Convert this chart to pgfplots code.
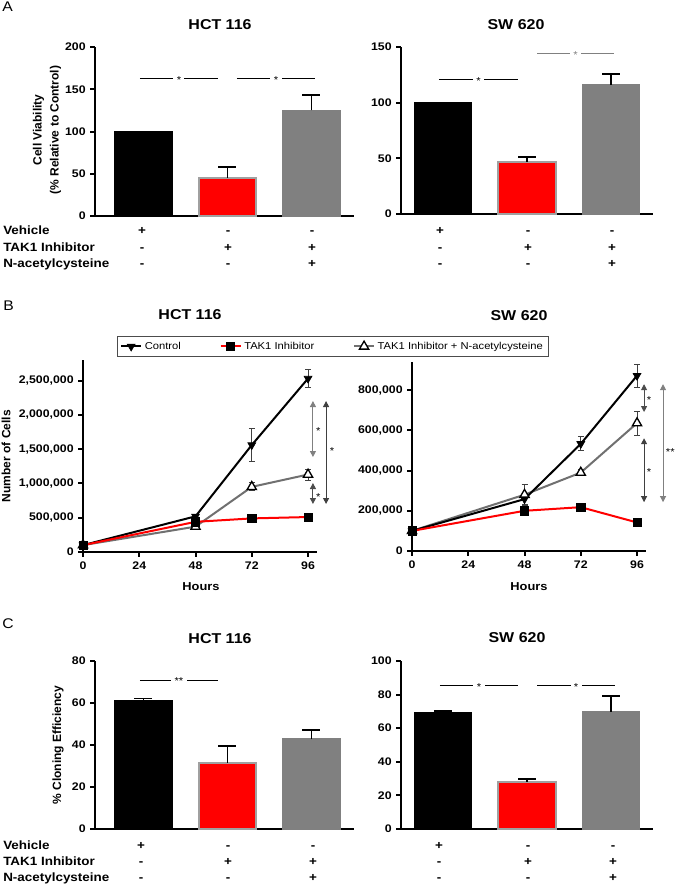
\documentclass[border=0pt]{standalone}
\usepackage{fontspec}
\setmainfont{Liberation Sans}[FakeStretch=1.12]
\newfontfamily\rotfont{Liberation Sans}
\usepackage{pgfplots}
\pgfplotsset{compat=1.18}
\usetikzlibrary{arrows.meta}
\definecolor{pgray}{HTML}{808080}
\definecolor{pred}{HTML}{FF0000}
\definecolor{outl}{HTML}{A0A0A0}
\definecolor{lgray}{HTML}{707070}
\newcommand\tickfont{\bfseries\fontsize{8.25}{9}\selectfont}
\newcommand\rowfont{\bfseries\fontsize{9}{10}\selectfont}
\newcommand\titlefont{\bfseries\fontsize{10.7}{12}\selectfont}
\newcommand\starfont{\fontsize{7.5}{8}\selectfont}
\newcommand\sig[5]{\draw[line width=0.5pt,#4] (axis cs:#1,#3) -- (axis cs:#2,#3) node[midway, fill=white, inner xsep=2.5pt, inner ysep=0.3pt, font=\starfont, text=#4, yshift=-1.2pt]{#5};}
\tikzset{
  arr/.style={line width=0.75pt, {Triangle[length=4.5pt,width=4.5pt]}-{Triangle[length=4.5pt,width=4.5pt]}},
  st/.style={font=\starfont, inner sep=0pt, yshift=-1.6pt},
}
\pgfplotsset{
  prism/.style={scale only axis, axis lines=left, axis line style={line width=1.5pt,-}, tick style={line width=1.5pt,black}, tick align=outside, major tick length=3.5pt, ytick pos=left, xtick pos=bottom, tick label style={font=\tickfont}, /pgf/number format/assume math mode=true, clip=false, anchor=south west, ymin=0},
  bars/.style={prism, xtick=\empty, xmin=-0.577, xmax=2.506, width=194.25pt},
  barsR/.style={prism, xtick=\empty, xmin=-0.5, xmax=2.5, width=189pt},
  bar/.style={ybar, bar width=0.68, bar shift=0pt, line width=1pt},
  ebar/.style={error bars/y dir=plus, error bars/y explicit, error bars/error bar style={line width=1.2pt,black}, error bars/error mark options={rotate=90, line width=1.2pt, black, mark size=6.75pt}},
  ctrl/.style={black, line width=1.5pt, mark=triangle*, mark size=3.4pt, mark options={rotate=180, fill=black, line width=0.5pt}},
  tak/.style={pred, line width=1.5pt, mark=square*, mark size=3.1pt, mark options={fill=black, draw=black, line width=0.5pt}},
  nac/.style={lgray, line width=1.5pt, mark=triangle*, mark size=4pt, mark options={fill=white, draw=black, line width=1pt}},
  eb/.style={error bars/y dir=both, error bars/y explicit, error bars/error bar style={line width=0.75pt, black!75}, error bars/error mark options={rotate=90, line width=0.75pt, black!75, mark size=2.25pt}},
}
\begin{document}
\begin{tikzpicture}
\path[use as bounding box] (0,0) rectangle (506.25pt,-663.75pt);
% ---------------- A left
\begin{axis}[bars, at={(71.25pt,-162pt)}, height=126.75pt, ymax=200, ytick={0,50,100,150,200}]
\addplot[bar, fill=black, draw=black] coordinates {(0,100)};
\addplot[bar, fill=pred, draw=outl, line width=1.5pt, ebar] coordinates {(1,45) +- (0,13)};
\addplot[bar, fill=pgray, draw=pgray, ebar] coordinates {(2,125) +- (0,18)};
\sig{-0.042}{0.887}{163}{black}{*}
\sig{1.113}{2.042}{163}{black}{*}
\end{axis}
% ---------------- A right
\begin{axis}[barsR, at={(300.75pt,-160.5pt)}, height=125.25pt, ymax=150, ytick={0,50,100,150}]
\addplot[bar, fill=black, draw=black] coordinates {(0,100)};
\addplot[bar, fill=pred, draw=outl, line width=1.5pt, ebar] coordinates {(1,47) +- (0,4)};
\addplot[bar, fill=pgray, draw=pgray, ebar] coordinates {(2,116) +- (0,9.5)};
\sig{-0.048}{0.893}{121}{black}{*}
\sig{1.119}{2.036}{144}{pgray}{*}
\end{axis}
% ---------------- B left
\begin{axis}[prism, at={(62.25pt,-414pt)}, width=175.8pt, height=144pt, xmin=0, xmax=100, ymax=2800000,
  xtick={0,24,48,72,96}, ytick={0,500000,1000000,1500000,2000000,2500000}, scaled y ticks=false,
  yticklabel style={/pgf/number format/fixed, /pgf/number format/1000 sep={,}},
  legend columns=3,
  legend image code/.code={\draw[mark repeat=2,mark phase=2,#1] plot coordinates {(0pt,0pt) (7.5pt,0pt) (15pt,0pt)};},
  legend style={at={(axis description cs:0.145,1.125)}, anchor=north west, draw=black!70, line width=0.75pt, font=\fontsize{7.5}{9}\selectfont, inner xsep=2pt, inner ysep=2pt, /tikz/every even column/.append style={column sep=27pt}},
  legend cell align=left]
\addlegendimage{ctrl}
\addlegendimage{tak}
\addlegendimage{nac}
\legend{Control, TAK1 Inhibitor, TAK1 Inhibitor + N-acetylcysteine}
\addplot[nac, eb, forget plot] coordinates {(0,100000) +- (0,0) (48,370000) +- (0,20000) (72,950000) +- (0,60000) (96,1130000) +- (0,80000)};
\addplot[ctrl, eb, forget plot] coordinates {(0,100000) +- (0,0) (48,520000) +- (0,30000) (72,1560000) +- (0,240000) (96,2530000) +- (0,130000)};
\addplot[tak, forget plot] coordinates {(0,100000) (48,440000) (72,490000) (96,510000)};
\draw[arr, pgray] (axis cs:98.1,2202000) -- (axis cs:98.1,1385000);
\node[st] at (axis cs:100.4,1800000) {*};
\draw[arr, black!70] (axis cs:98.1,1006000) -- (axis cs:98.1,700000);
\node[st] at (axis cs:100.4,830000) {*};
\draw[arr, black!75] (axis cs:103.7,2202000) -- (axis cs:103.7,700000);
\node[st] at (axis cs:106.2,1500000) {*};
\end{axis}
% ---------------- B right
\begin{axis}[prism, at={(309pt,-413.25pt)}, width=175.8pt, height=141.75pt, xmin=0, xmax=100, ymax=940000,
  xtick={0,24,48,72,96}, ytick={0,200000,400000,600000,800000}, scaled y ticks=false,
  yticklabel style={/pgf/number format/fixed, /pgf/number format/1000 sep={,}}]
\addplot[nac, eb] coordinates {(0,100000) +- (0,0) (48,280000) +- (0,50000) (72,390000) +- (0,15000) (96,636000) +- (0,60000)};
\addplot[ctrl, eb] coordinates {(0,100000) +- (0,0) (48,258000) +- (0,30000) (72,533000) +- (0,35000) (96,872000) +- (0,57000)};
\addplot[tak] coordinates {(0,100000) (48,200000) (72,218000) (96,142000)};
\draw[arr, black!70] (axis cs:99,830000) -- (axis cs:99,691000);
\node[st] at (axis cs:101.1,760000) {*};
\draw[arr, black!75] (axis cs:99,561000) -- (axis cs:99,243000);
\node[st] at (axis cs:101.1,402000) {*};
\draw[arr, pgray] (axis cs:107.1,830000) -- (axis cs:107.1,243000);
\node[st] at (axis cs:110.2,502000) {**};
\end{axis}
% ---------------- C left
\begin{axis}[bars, at={(71.25pt,-621.75pt)}, height=126pt, ymax=80, ytick={0,20,40,60,80}]
\addplot[bar, fill=black, draw=black, ebar] coordinates {(0,61.3) +- (0,0.8)};
\addplot[bar, fill=pred, draw=outl, line width=1.5pt, ebar] coordinates {(1,31.5) +- (0,8)};
\addplot[bar, fill=pgray, draw=pgray, ebar] coordinates {(2,42.8) +- (0,4.3)};
\sig{-0.042}{0.887}{71}{black}{**}
\end{axis}
% ---------------- C right
\begin{axis}[barsR, at={(300.75pt,-621.75pt)}, height=126pt, ymax=100, ytick={0,20,40,60,80,100}]
\addplot[bar, fill=black, draw=black, ebar] coordinates {(0,69.5) +- (0,0.8)};
\addplot[bar, fill=pred, draw=outl, line width=1.5pt, ebar] coordinates {(1,28) +- (0,1.8)};
\addplot[bar, fill=pgray, draw=pgray, ebar] coordinates {(2,69.8) +- (0,9.4)};
\sig{-0.036}{0.893}{85.7}{black}{*}
\sig{1.119}{2.048}{85.7}{black}{*}
\end{axis}
% ---------------- text
\begin{scope}[x=0.75pt,y=-0.75pt]
\node[anchor=base west, inner sep=0, font=\fontsize{10.5}{12}\selectfont] at (2,12) {A};
\node[anchor=base west, inner sep=0, font=\fontsize{10.5}{12}\selectfont] at (3,310) {B};
\node[anchor=base west, inner sep=0, font=\fontsize{10.5}{12}\selectfont] at (2,628) {C};
\node[anchor=base, inner sep=0, font=\titlefont] at (220,29.3) {HCT 116};
\node[anchor=base, inner sep=0, font=\titlefont] at (516,29) {SW 620};
\node[anchor=base, inner sep=0, font=\titlefont] at (190,319.3) {HCT 116};
\node[anchor=base, inner sep=0, font=\titlefont] at (519,320) {SW 620};
\node[anchor=base, inner sep=0, font=\titlefont] at (220,643.3) {HCT 116};
\node[anchor=base, inner sep=0, font=\titlefont] at (517,642.7) {SW 620};
\node[anchor=base, inner sep=0, font=\bfseries\fontsize{8.6}{10}\selectfont] at (201,590) {Hours};
\node[anchor=base, inner sep=0, font=\bfseries\fontsize{8.6}{10}\selectfont] at (529,590) {Hours};
\node[rotate=90, align=center, inner sep=0, font=\rotfont\bfseries\fontsize{9}{12.75}\selectfont] at (47,130) {Cell Viability\\(\% Relative to Control)};
\node[rotate=90, inner sep=0, font=\rotfont\bfseries\fontsize{9}{11}\selectfont] at (6,456) {Number of Cells};
\node[rotate=90, inner sep=0, font=\rotfont\bfseries\fontsize{9}{11}\selectfont] at (58,745) {\% Cloning Efficiency};
% row labels
\foreach \yy/\lab in {234/Vehicle, 251/TAK1 Inhibitor, 267/N-acetylcysteine, 849/Vehicle, 865/TAK1 Inhibitor, 881/N-acetylcysteine}
  \node[anchor=base west, inner sep=0, font=\rowfont] at (3,\yy) {\lab};
% signs
\foreach \xx/\a/\b/\c in {142/+/-/-, 228/-/+/-, 312/-/+/+, 440/+/-/-, 528/-/+/-, 612/-/+/+}{
  \node[anchor=base, inner sep=0, font=\rowfont] at (\xx,234) {\a};
  \node[anchor=base, inner sep=0, font=\rowfont] at (\xx,251) {\b};
  \node[anchor=base, inner sep=0, font=\rowfont] at (\xx,267) {\c};
}
\foreach \xx/\a/\b/\c in {141/+/-/-, 228/-/+/-, 313/-/+/+, 439/+/-/-, 528/-/+/-, 613/-/+/+}{
  \node[anchor=base, inner sep=0, font=\rowfont] at (\xx,849) {\a};
  \node[anchor=base, inner sep=0, font=\rowfont] at (\xx,865) {\b};
  \node[anchor=base, inner sep=0, font=\rowfont] at (\xx,881) {\c};
}
\end{scope}
\end{tikzpicture}
\end{document}
